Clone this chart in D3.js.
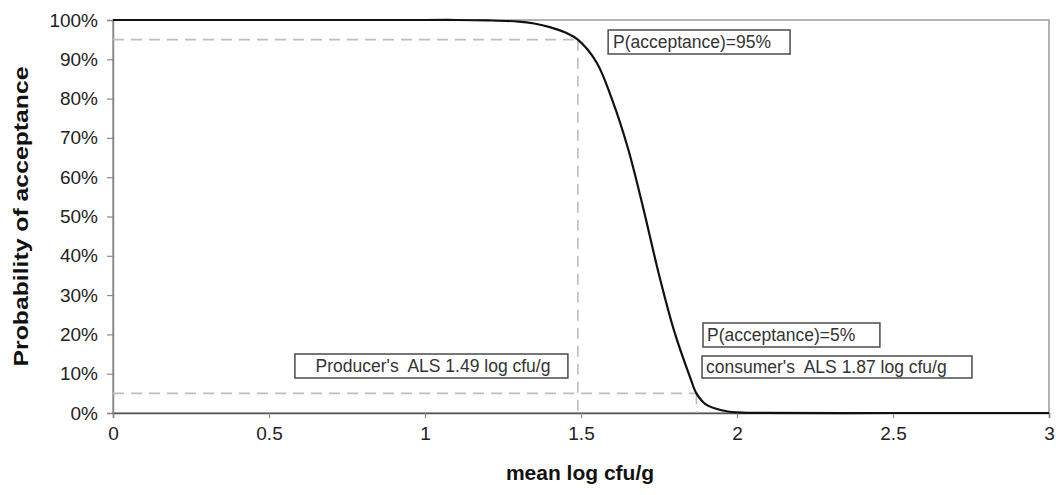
<!DOCTYPE html>
<html>
<head>
<meta charset="utf-8">
<script src="https://cdn.jsdelivr.net/npm/d3@7"></script>
<style>
  html, body { margin: 0; padding: 0; background: #fff; }
  svg { display: block; font-family: "Liberation Sans", Arial, sans-serif; }
  text { white-space: pre; }
</style>
</head>
<body>
<svg id="chart" width="1056" height="495"></svg>
<script>
// Operating characteristic curve: mean log cfu/g vs probability of acceptance
const meanLog = [0, 0.5, 1.0, 1.1, 1.2, 1.3, 1.35, 1.4, 1.45, 1.49, 1.55, 1.6, 1.65, 1.7, 1.75, 1.8, 1.85, 1.87, 1.9, 1.95, 2.0, 2.05, 2.5, 3.0];
const pAccept = [1.0, 1.0, 1.0, 1.0, 0.999, 0.996, 0.991, 0.982, 0.968, 0.95, 0.892, 0.797, 0.675, 0.52, 0.352, 0.205, 0.09, 0.05, 0.022, 0.007, 0.0015, 0.0003, 0, 0];

const xTicks = [0, 0.5, 1, 1.5, 2, 2.5, 3];
const xTickLabels = ["0", "0.5", "1", "1.5", "2", "2.5", "3"];
const yTicks = [0, 0.1, 0.2, 0.3, 0.4, 0.5, 0.6, 0.7, 0.8, 0.9, 1.0];
const yTickLabels = ["0%", "10%", "20%", "30%", "40%", "50%", "60%", "70%", "80%", "90%", "100%"];

// Acceptable level of safety points
const alsNames = ["Producer", "Consumer"];
const alsValues = [1.49, 1.87];
const alsProb = [0.95, 0.05];
const noteTexts = ["P(acceptance)=95%", "Producer's  ALS 1.49 log cfu/g", "P(acceptance)=5%", "consumer's  ALS 1.87 log cfu/g"];

const svg = d3.select("#chart");
const x = d3.scaleLinear().domain([0, 3]).range([113, 1049]);
const y = d3.scaleLinear().domain([0, 1]).range([413, 20]);

const axisGrey = "#8a8a8a";

// Plot frame
svg.append("rect")
  .attr("x", x(0)).attr("y", y(1))
  .attr("width", x(3) - x(0)).attr("height", y(0) - y(1))
  .attr("fill", "none").attr("stroke", "#9a9a9a").attr("stroke-width", 1.5);

// Y axis
const yAxis = svg.append("g")
  .attr("transform", `translate(${x(0)},0)`)
  .call(d3.axisLeft(y).tickValues(yTicks).tickFormat((d, i) => yTickLabels[i]).tickSize(6).tickPadding(9));
yAxis.select(".domain").attr("stroke", axisGrey).attr("stroke-width", 1.5);
yAxis.selectAll(".tick line").attr("stroke", axisGrey).attr("stroke-width", 1.2);
yAxis.selectAll(".tick text").attr("font-size", 19).attr("fill", "#222")
  .attr("font-family", "Liberation Sans, Arial, sans-serif");

// X axis
const xAxis = svg.append("g")
  .attr("transform", `translate(0,${y(0)})`)
  .call(d3.axisBottom(x).tickValues(xTicks).tickFormat((d, i) => xTickLabels[i]).tickSize(5).tickPadding(9));
xAxis.select(".domain").attr("stroke", "#555").attr("stroke-width", 1.5);
xAxis.selectAll(".tick line").attr("stroke", axisGrey).attr("stroke-width", 1.2);
xAxis.selectAll(".tick text").attr("font-size", 19).attr("fill", "#222")
  .attr("font-family", "Liberation Sans, Arial, sans-serif");

// Dashed reference lines for each ALS
const dashColor = "#bdbdbd";
alsValues.forEach((v, i) => {
  const g = svg.append("g").attr("class", "ref-" + alsNames[i].toLowerCase())
    .attr("stroke", dashColor).attr("stroke-width", 1.6).attr("stroke-dasharray", "11,7").attr("fill", "none");
  g.append("line")
    .attr("x1", x(0)).attr("x2", x(v))
    .attr("y1", y(alsProb[i])).attr("y2", y(alsProb[i]));
  g.append("line")
    .attr("x1", x(v)).attr("x2", x(v))
    .attr("y1", y(alsProb[i])).attr("y2", y(0));
});

// OC curve
const line = d3.line()
  .x((d, i) => x(meanLog[i]))
  .y((d, i) => y(pAccept[i]))
  .curve(d3.curveCatmullRom.alpha(0.5));
svg.append("path")
  .datum(pAccept)
  .attr("d", line)
  .attr("fill", "none")
  .attr("stroke", "#111")
  .attr("stroke-width", 2.2);

// Annotation boxes
const notes = [
  { text: noteTexts[0], x0: 1.587, x1: 2.170, top: 30, h: 24, tx: 613, anchor: "start" },
  { text: noteTexts[1], x0: 0.583, x1: 1.458, top: 354, h: 24, tx: 433, anchor: "middle" },
  { text: noteTexts[2], x0: 1.891, x1: 2.458, top: 323, h: 24, tx: 707, anchor: "start" },
  { text: noteTexts[3], x0: 1.888, x1: 2.753, top: 356, h: 22, tx: 706, anchor: "start" }
];
const ng = svg.append("g").attr("class", "notes");
notes.forEach(n => {
  ng.append("rect")
    .attr("x", x(n.x0)).attr("y", n.top)
    .attr("width", x(n.x1) - x(n.x0)).attr("height", n.h)
    .attr("fill", "#fff").attr("stroke", "#555").attr("stroke-width", 1.6);
  ng.append("text")
    .attr("x", n.tx).attr("y", n.top + n.h / 2)
    .attr("dy", "0.36em")
    .attr("text-anchor", n.anchor)
    .attr("font-size", 17.5).attr("fill", "#333")
    .text(n.text);
});

// Axis titles
svg.append("text")
  .attr("x", (x(0) + x(3)) / 2 - 1).attr("y", 480)
  .attr("text-anchor", "middle")
  .attr("font-size", 21).attr("font-weight", "bold").attr("fill", "#111")
  .text("mean log cfu/g");

svg.append("text")
  .attr("transform", `translate(28,${(y(0) + y(1)) / 2}) rotate(-90)`)
  .attr("text-anchor", "middle")
  .attr("font-size", 21).attr("font-weight", "bold").attr("fill", "#111")
  .attr("textLength", 300).attr("lengthAdjust", "spacingAndGlyphs")
  .text("Probability of acceptance");
</script>
</body>
</html>
